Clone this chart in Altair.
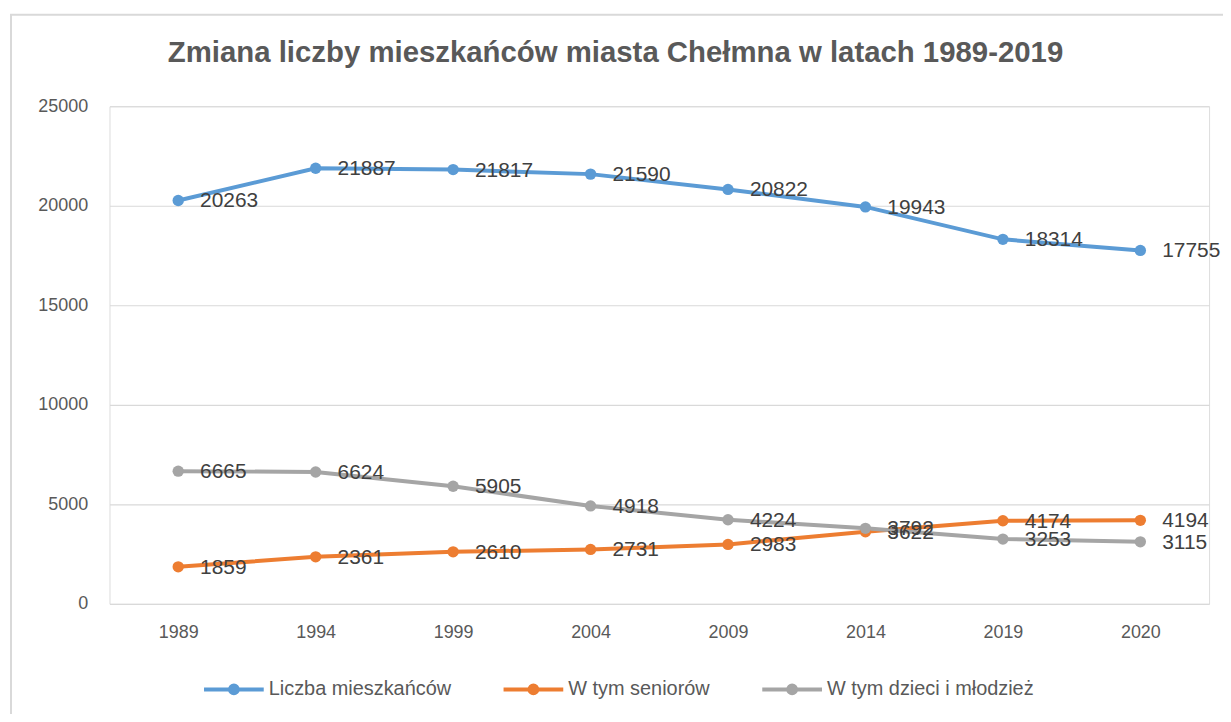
import altair as alt
import pandas as pd

years = ["1989", "1994", "1999", "2004", "2009", "2014", "2019", "2020"]
series_names = ["Liczba mieszkańców", "W tym seniorów", "W tym dzieci i młodzież"]
mieszkancy = [20263, 21887, 21817, 21590, 20822, 19943, 18314, 17755]
seniorzy = [1859, 2361, 2610, 2731, 2983, 3622, 4174, 4194]
dzieci = [6665, 6624, 5905, 4918, 4224, 3792, 3253, 3115]
colors = ["#5B9BD5", "#ED7D31", "#A5A5A5"]

rows = []
for name, vals in zip(series_names, [mieszkancy, seniorzy, dzieci]):
    for y, v in zip(years, vals):
        rows.append({"rok": y, "seria": name, "wartosc": v})
df = pd.DataFrame(rows)

W, H = 1105, 500

x_enc = alt.X("rok:O", sort=years, scale=alt.Scale(type="point", padding=0.5),
              axis=alt.Axis(title=None, labelAngle=0, ticks=False, domain=False,
                            labelPadding=20, labelFontSize=18, labelColor="#595959",
                            labelFont="Liberation Sans", grid=False))
y_enc = alt.Y("wartosc:Q", scale=alt.Scale(domain=[0, 25000], nice=False),
              axis=alt.Axis(title=None, values=[0, 5000, 10000, 15000, 20000, 25000],
                            format="d", ticks=False, domain=False, labelPadding=22,
                            labelFontSize=18, labelColor="#595959",
                            labelFont="Liberation Sans",
                            grid=True, gridColor="#D9D9D9", gridWidth=1.2))
legend_path = ("M-1,0L1,0M0.13,0A0.13,0.13,0,1,1,-0.13,0A0.13,0.13,0,1,1,0.13,0")
color_enc = alt.Color("seria:N", sort=series_names,
                      scale=alt.Scale(domain=series_names, range=colors),
                      legend=alt.Legend(title=None, orient="none", direction="horizontal",
                                        legendX=93, legendY=554,
                                        symbolType=legend_path, symbolSize=3600,
                                        symbolStrokeWidth=4, labelFontSize=20,
                                        labelFont="Liberation Sans", labelColor="#595959",
                                        labelLimit=400, columnPadding=44, labelOffset=3))

base = alt.Chart(df)
lines = base.mark_line(strokeWidth=4).encode(x=x_enc, y=y_enc, color=color_enc)
points = base.mark_point(filled=True, size=130, opacity=1).encode(
    x=x_enc, y=y_enc, color=color_enc)
labels = base.mark_text(align="left", baseline="middle", dx=22, dy=1, fontSize=21,
                        font="Liberation Sans", color="#404040").encode(
    x=x_enc, y=y_enc, text="wartosc:Q")

frame = alt.Chart(pd.DataFrame({"a": [0]})).mark_rect(
    fill="transparent", stroke="#D9D9D9", strokeWidth=2).encode(
    x=alt.value(-99), x2=alt.value(W + 60), y=alt.value(-92), y2=alt.value(H + 200))

chart = alt.layer(frame, lines, points, labels).properties(
    width=W, height=H,
    autosize=alt.AutoSizeParams(type="none"),
    padding={"left": 102, "top": 97, "right": 14, "bottom": 109},
    title=alt.TitleParams("Zmiana liczby  mieszkańców miasta Chełmna w latach 1989-2019",
                          font="Liberation Sans", fontSize=29.5, fontWeight="bold",
                          color="#595959", anchor="middle", dx=-44, offset=-55),
).configure_view(stroke=None).configure(background="white")

chart.save("out.html", embed_options={"renderer": "svg", "actions": False})
